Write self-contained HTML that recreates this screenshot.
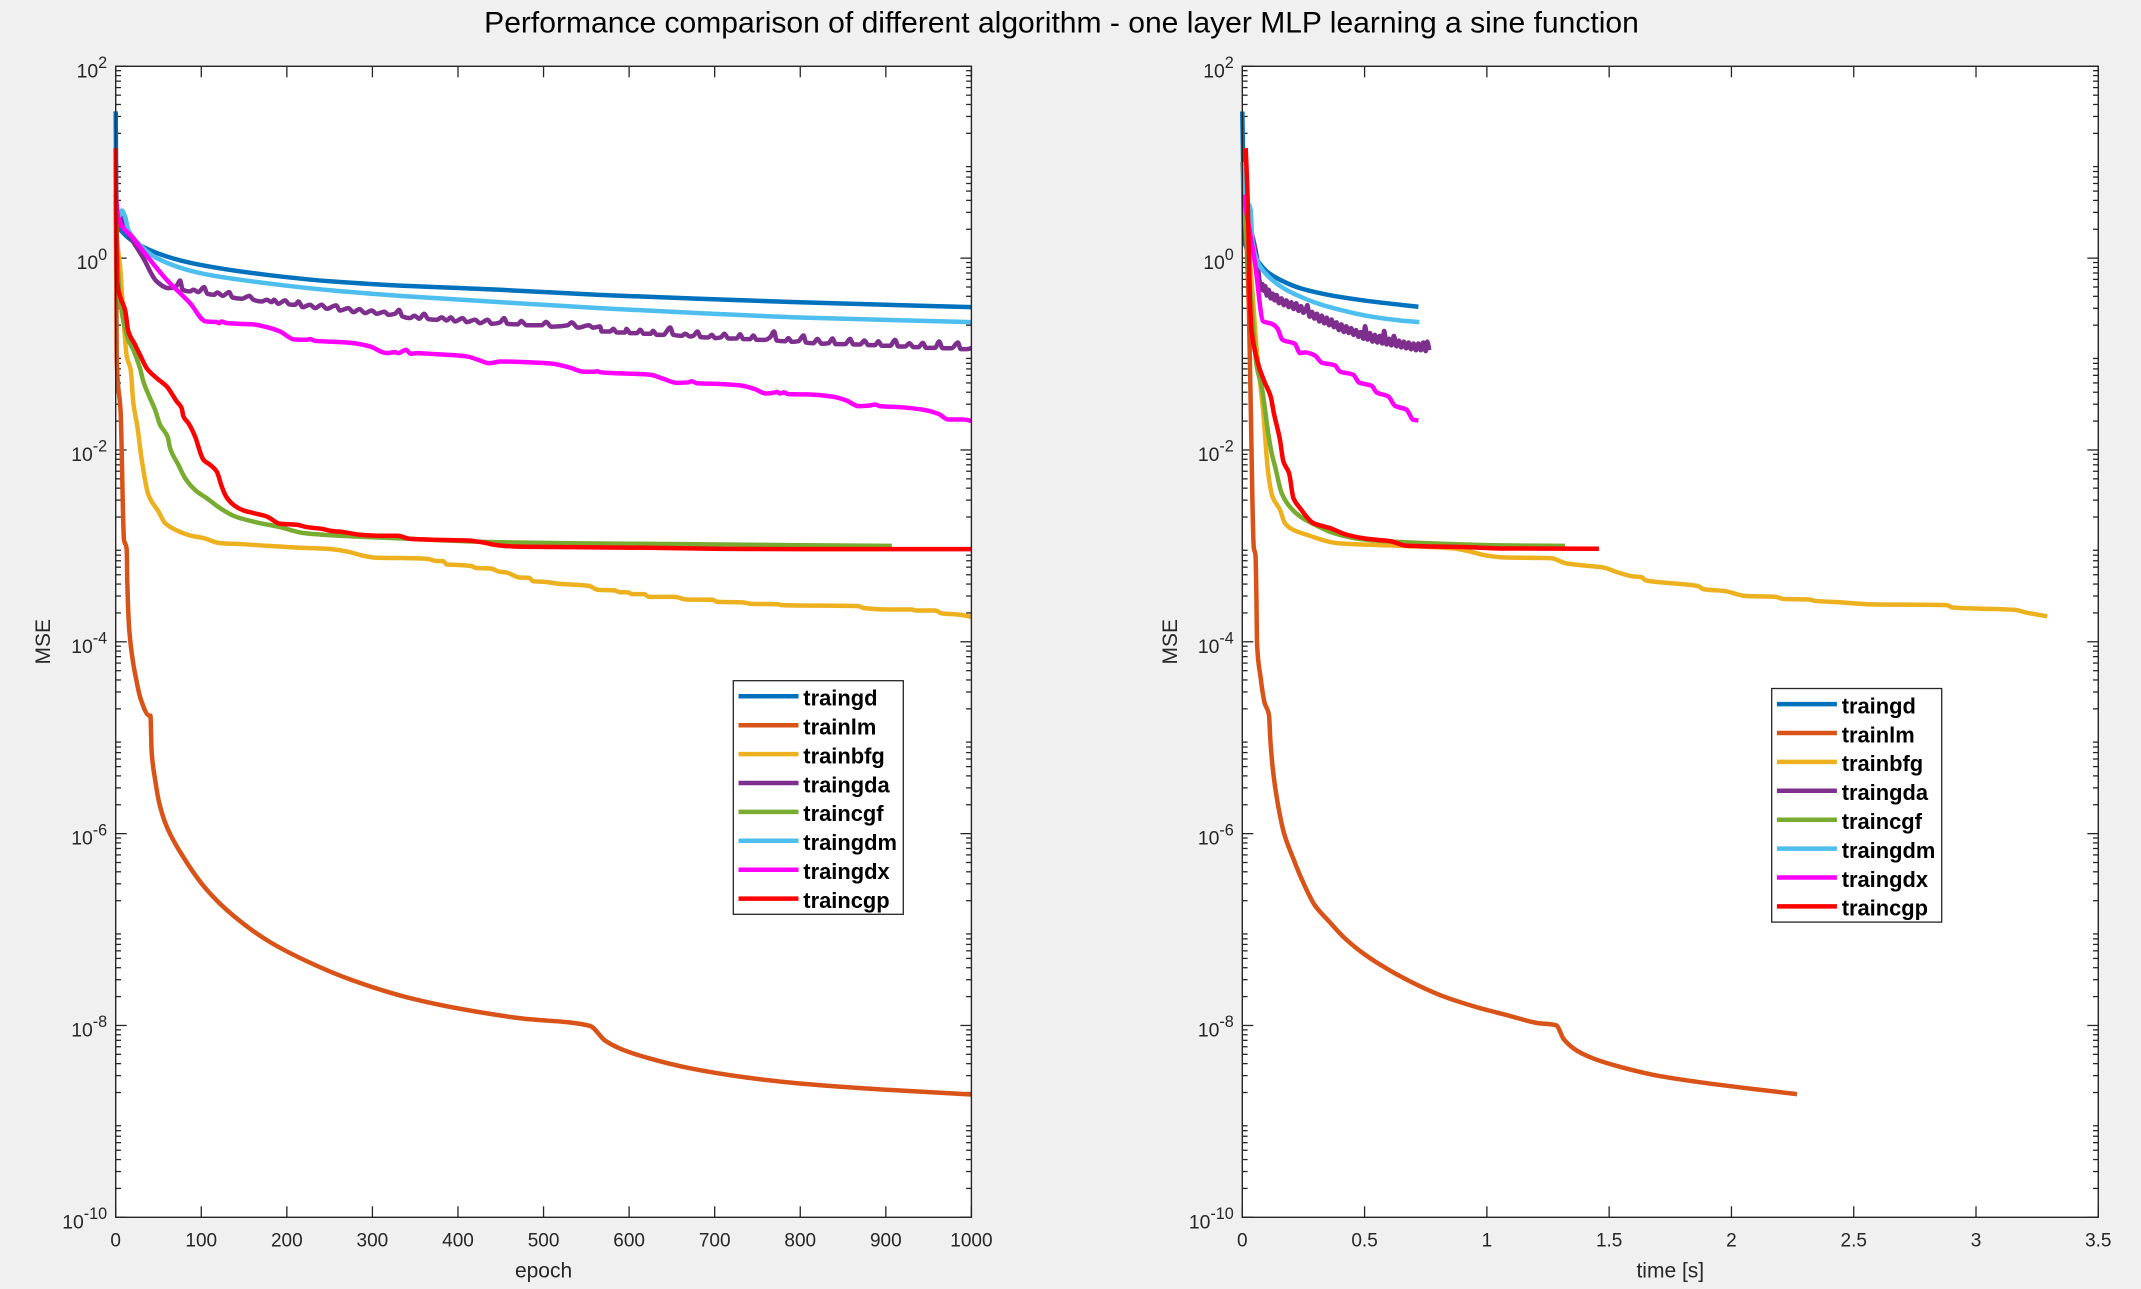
<!DOCTYPE html>
<html>
<head>
<meta charset="utf-8">
<title>Performance comparison</title>
<style>
html,body{margin:0;padding:0;background:#f0f0f0;}
svg{display:block;font-family:"Liberation Sans",Arial,sans-serif;}
</style>
</head>
<body>
<svg id="figure" xmlns="http://www.w3.org/2000/svg" width="2141" height="1289" viewBox="0 0 2141 1289">
  <rect x="0" y="0" width="2141" height="1289" fill="#f0f0f0"/>
  <text x="1061.5" y="32.3" text-anchor="middle" font-size="30.05" fill="#000">Performance comparison of different algorithm - one layer MLP learning a sine function</text>
  <g id="panel-left"></g>
  <g id="panel-right"></g>
</svg>
<script>
// Axis tick values
const epochTicks = [0,100,200,300,400,500,600,700,800,900,1000];
const timeTicks = [0,0.5,1,1.5,2,2.5,3,3.5];
const mseDecades = [2,0,-2,-4,-6,-8,-10];
const seriesNames = ['traingd','trainlm','trainbfg','traingda','traincgf','traingdm','traingdx','traincgp'];

// MSE is stored as log10(MSE). Left panel: epoch vs log10(MSE)
const epochTraingd = [0,1,3,8,20.6,59.6,98.5,176,254,332,449,565,682,799,1000];
const log10MseTraingd = [1.53,.45,.33,.27,.173,.017,-.07,-.174,-.244,-.286,-.33,-.383,-.424,-.46,-.511];

const epochTrainlm = [0,.5,1.2,5.8,9.7,12.9,13.5,15.7,19.7,24,29,39.3,40.6,42,46,51,60,80,106,139,178,224,277,342,408,473,554,572,591,624,670,736,801,900,1000];
const log10MseTrainlm = [.6,0,-1.06,-1.613,-2.937,-3.04,-3.36,-3.857,-4.18,-4.394,-4.591,-4.77,-4.77,-5.147,-5.434,-5.685,-5.935,-6.258,-6.581,-6.867,-7.118,-7.333,-7.53,-7.71,-7.835,-7.925,-8.004,-8.158,-8.247,-8.344,-8.444,-8.541,-8.606,-8.67,-8.72];

const epochTrainbfg = [0,1.5,5.1,9,12.9,17.5,20.6,25.3,30.4,38.2,49.9,57.7,71.3,86.9,102.5,121.9,145.3,176.5,215.4,246.6,270,289.4,305,332.3,364.7,373.6,382.6,387.1,398.2,416.1,420.6,438.5,447.4,456.4,472,483.2,487.7,501.1,519,552.5,563.7,583.8,588.3,599.5,603.1,617.4,623.2,653.2,666.6,697.9,702.4,733.7,742.6,773.9,778.4,867.8,874.5,903.6,930.4,934.9,957.3,966.2,984.1,1000];
const log10MseTrainbfg = [.7,.2,-.087,-.608,-1.025,-1.164,-1.511,-1.755,-2.102,-2.467,-2.641,-2.762,-2.839,-2.891,-2.919,-2.971,-2.981,-2.999,-3.019,-3.03,-3.058,-3.103,-3.124,-3.127,-3.135,-3.156,-3.159,-3.194,-3.198,-3.211,-3.229,-3.236,-3.267,-3.277,-3.33,-3.333,-3.368,-3.375,-3.396,-3.416,-3.458,-3.465,-3.482,-3.486,-3.503,-3.503,-3.531,-3.531,-3.559,-3.562,-3.583,-3.59,-3.604,-3.608,-3.618,-3.628,-3.649,-3.663,-3.663,-3.674,-3.674,-3.705,-3.715,-3.74];

const epochTraingda = [0,1.5,3.1,7,14.8,32.3,47.9,61.5,69.3,72,75.2,78.3,86.9,90.8,96.6,103.2,107.1,114.9,118.8,125,132.5,136.3,147.3,156.2,160.9,170.6,176.5,182.3,185,190.1,197.9,203,209.6,213.5,218.5,227.1,233,240.7,246.6,257.5,262.2,271.9,277.8,284.8,291.4,299.2,305,314,318.7,326.4,331.1,335,344,349,354.9,360.3,365.4,375.1,381,386.8,391.5,396.6,405.5,410.2,419.9,425.8,434.7,439.4,449,453.8,458,470,474,480,498,503,509,528,533,540,553,558,566,568,577.7,581.6,585.5,595,597,601,609,613,617,625,628,632.3,640,648,651.7,661.5,665.4,671.2,675,679.8,683.7,692.6,696.6,700.5,707,711.3,716,725.7,729.6,733.5,741.3,745.2,749,758.9,764.8,769.4,772.5,782.3,786.2,790,797.8,803.8,806.8,815.4,820,825.1,833,837.6,841.5,852.4,858.2,862.1,870,875,879.6,887.4,891.3,895.2,905,910.8,914.7,922.5,927.6,932.3,938.1,943.2,947.1,957.6,962.3,966.2,977.1,984.2,987.6,994.7,1000];
const log10MseTraingda = [.6,.45,.434,.417,.26,0,-.243,-.313,-.302,-.278,-.233,-.33,-.347,-.33,-.354,-.302,-.372,-.382,-.358,-.393,-.354,-.41,-.424,-.393,-.434,-.452,-.434,-.459,-.434,-.476,-.441,-.483,-.486,-.452,-.511,-.486,-.521,-.486,-.528,-.493,-.546,-.521,-.563,-.532,-.573,-.546,-.58,-.559,-.591,-.58,-.539,-.608,-.625,-.601,-.632,-.58,-.636,-.643,-.618,-.65,-.618,-.66,-.625,-.667,-.643,-.678,-.643,-.685,-.671,-.625,-.685,-.69,-.655,-.7,-.7,-.665,-.715,-.7,-.67,-.725,-.7,-.725,-.713,-.765,-.765,-.737,-.775,-.775,-.737,-.782,-.782,-.747,-.789,-.789,-.758,-.8,-.8,-.723,-.8,-.81,-.789,-.817,-.81,-.765,-.824,-.827,-.8,-.834,-.827,-.789,-.838,-.838,-.793,-.845,-.845,-.807,-.852,-.852,-.824,-.765,-.859,-.866,-.834,-.873,-.866,-.807,-.88,-.887,-.842,-.893,-.887,-.838,-.897,-.897,-.842,-.9,-.9,-.859,-.907,-.907,-.866,-.914,-.914,-.852,-.921,-.921,-.887,-.928,-.928,-.883,-.935,-.935,-.869,-.939,-.939,-.88,-.949,-.949,-.939];

const epochTraincgf = [0,1.5,5.1,14.8,20.6,28.4,32.3,40.1,46,51.8,60.8,63.5,73.2,81,94.7,106.3,121.9,139.5,164.8,192,219.3,254.4,293.3,332.3,443,532,666.6,800.8,907];
const log10MseTraincgf = [.6,.1,-.434,-.851,-.956,-1.147,-1.286,-1.459,-1.581,-1.737,-1.866,-1.98,-2.154,-2.293,-2.432,-2.502,-2.606,-2.693,-2.755,-2.804,-2.866,-2.891,-2.908,-2.922,-2.961,-2.972,-2.982,-2.993,-3];

const epochTraingdm = [0,1.5,3.9,7,10.9,14.7,24.5,48,98.5,176,254,332,449,565,682,799,1000];
const log10MseTraingdm = [1,.4,.434,.496,.434,.295,.173,0,-.156,-.261,-.338,-.393,-.459,-.521,-.573,-.619,-.667];

const epochTraingdx = [0,3.1,20.6,40.1,59.6,86.9,105.2,118,120.8,123.9,129.7,145.3,160.9,176.5,192,208.8,223.2,227,233,254.4,277.8,297.2,316.7,326.4,330,339.3,344.8,351.8,371.2,410.2,425.8,435.5,445.3,449,480,510,530,548,558,563,566,582,605,624.7,640,655.6,669,673,679,702,729.6,747,759.6,770.5,772.5,776.4,781,786,807.4,838.7,854,867.9,881.5,887.4,893.3,916.7,944,961.4,973,990.6,1000];
const log10MseTraingdx = [.66,.417,.208,-.017,-.226,-.469,-.66,-.667,-.678,-.66,-.678,-.685,-.691,-.719,-.764,-.848,-.851,-.844,-.862,-.872,-.886,-.921,-.99,-.98,-.99,-.956,-.997,-.99,-1,-1.025,-1.067,-1.095,-1.084,-1.077,-1.085,-1.1,-1.14,-1.185,-1.185,-1.18,-1.189,-1.199,-1.206,-1.216,-1.258,-1.3,-1.296,-1.283,-1.304,-1.311,-1.327,-1.366,-1.411,-1.4,-1.394,-1.411,-1.4,-1.418,-1.421,-1.446,-1.484,-1.543,-1.536,-1.526,-1.543,-1.554,-1.581,-1.623,-1.682,-1.682,-1.696];

const epochTraincgp = [0,.4,1.9,5.1,10.9,14.8,22.6,28.4,36.2,47.9,59.6,71.3,77.1,79.1,84.9,92.7,100.5,102.5,110.2,118,123.9,128.9,137.5,149.2,160.9,176.5,192,211.5,223.2,242.7,250.5,266,285.5,308.9,329,344.6,375.9,411.7,429.6,443,465.3,532.4,621.9,711.3,800.8,1000];
const log10MseTraincgp = [1.146,.608,-.261,-.4,-.539,-.764,-.903,-1.008,-1.147,-1.251,-1.338,-1.494,-1.564,-1.65,-1.72,-1.859,-2.067,-2.102,-2.154,-2.224,-2.38,-2.484,-2.571,-2.63,-2.658,-2.693,-2.769,-2.78,-2.804,-2.825,-2.842,-2.856,-2.884,-2.895,-2.895,-2.927,-2.937,-2.944,-2.965,-2.989,-3.006,-3.013,-3.02,-3.031,-3.034,-3.034];

// Right panel: time [s] vs log10(MSE)
const timeTraingd = [0,.004,.007,.059,.1,.168,.236,.304,.372,.508,.645,.72];
const timeLog10MseTraingd = [1.529,.886,.191,-.017,-.139,-.243,-.313,-.358,-.393,-.445,-.486,-.507];

const timeTrainlm = [0,.015,.027,.034,.047,.054,.058,.06,.074,.091,.109,.115,.126,.144,.17,.21,.242,.297,.352,.418,.505,.604,.691,.812,.954,1.085,1.206,1.283,1.315,1.37,1.436,1.524,1.677,1.852,2.071,2.268];
const timeLog10MseTrainlm = [1,.3,-.539,-1.477,-3.02,-3.1,-3.6,-3.997,-4.356,-4.635,-4.763,-5.034,-5.353,-5.672,-5.991,-6.27,-6.47,-6.749,-6.908,-7.088,-7.268,-7.427,-7.547,-7.687,-7.806,-7.894,-7.974,-7.998,-8.146,-8.266,-8.345,-8.417,-8.513,-8.585,-8.657,-8.716];

const timeTrainbfg = [.003,.02,.04,.059,.086,.106,.123,.154,.174,.202,.263,.386,.645,.867,.932,.998,1.064,1.261,1.326,1.392,1.48,1.524,1.6,1.633,1.649,1.743,1.863,1.885,1.973,2.06,2.181,2.214,2.312,2.345,2.433,2.575,2.881,2.903,3.013,3.155,3.21,3.291];
const timeLog10MseTrainbfg = [.7,.3,-.3,-.956,-1.616,-2.241,-2.484,-2.623,-2.762,-2.825,-2.884,-2.971,-2.999,-3.028,-3.06,-3.1,-3.12,-3.128,-3.183,-3.203,-3.227,-3.267,-3.319,-3.327,-3.359,-3.387,-3.419,-3.451,-3.471,-3.523,-3.531,-3.554,-3.558,-3.574,-3.586,-3.61,-3.618,-3.642,-3.654,-3.666,-3.698,-3.734];

const timeTraingda = [.005,.03,.06,.07,.076,.082,.088,.094,.1,.108,.116,.124,.132,.14,.15,.16,.17,.18,.19,.2,.21,.22,.23,.24,.25,.26,.266,.275,.285,.295,.305,.315,.325,.335,.345,.355,.365,.375,.385,.395,.405,.415,.425,.435,.445,.455,.465,.475,.485,.495,.502,.512,.522,.532,.542,.552,.562,.572,.58,.59,.6,.61,.62,.63,.64,.65,.66,.67,.68,.69,.7,.71,.72,.73,.74,.75,.756,.765];
const timeLog10MseTraingda = [.6,.35,0,-.226,-.33,-.27,-.34,-.29,-.39,-.33,-.42,-.37,-.44,-.385,-.47,-.42,-.49,-.44,-.51,-.46,-.53,-.47,-.55,-.5,-.57,-.53,-.49,-.61,-.56,-.63,-.58,-.66,-.6,-.68,-.62,-.7,-.64,-.72,-.67,-.75,-.69,-.77,-.71,-.78,-.73,-.8,-.75,-.82,-.77,-.84,-.71,-.85,-.78,-.87,-.8,-.88,-.81,-.89,-.76,-.9,-.84,-.91,-.81,-.92,-.86,-.93,-.87,-.94,-.88,-.95,-.89,-.96,-.89,-.96,-.88,-.97,-.87,-.96];

const timeTraincgf = [.005,.02,.035,.059,.079,.106,.12,.134,.161,.188,.236,.297,.372,.481,.645,.849,1.054,1.32];
const timeLog10MseTraincgf = [.6,.1,-.4,-1.129,-1.338,-1.824,-2.033,-2.172,-2.45,-2.571,-2.693,-2.78,-2.866,-2.929,-2.96,-2.981,-2.995,-3];

const timeTraingdm = [.002,.004,.034,.041,.059,.1,.168,.236,.304,.372,.508,.645,.724];
const timeLog10MseTraingdm = [1,.678,.504,.191,-.017,-.174,-.313,-.4,-.469,-.521,-.601,-.65,-.667];

const timeTraingdx = [.005,.052,.086,.12,.143,.164,.215,.236,.256,.297,.324,.379,.399,.454,.477,.529,.549,.597,.624,.672,.699,.72];
const timeLog10MseTraingdx = [.66,-.052,-.66,-.684,-.73,-.851,-.893,-.99,-.983,-1.015,-1.088,-1.119,-1.181,-1.216,-1.296,-1.331,-1.4,-1.442,-1.539,-1.581,-1.685,-1.692];

const timeTraincgp = [.014,.022,.031,.038,.052,.07,.093,.116,.129,.154,.168,.191,.209,.236,.29,.358,.427,.508,.604,.672,.781,.917,1.054,1.458];
const timeLog10MseTraincgp = [1.147,.608,-.434,-.764,-.973,-1.147,-1.303,-1.442,-1.616,-1.894,-2.12,-2.241,-2.502,-2.606,-2.762,-2.814,-2.884,-2.926,-2.95,-2.999,-3.006,-3.013,-3.027,-3.03];

const seriesColors = ['#0072BD','#D95319','#EDB120','#7E2F8E','#77AC30','#4DBEEE','#FF00FF','#FF0000'];
const NS = 'http://www.w3.org/2000/svg';
const TOP = 66.3, BOTTOM = 1217.3, INK = '#262626';

function yAxis(logValue){ return TOP + (2 - logValue) * (BOTTOM - TOP) / 12; }
function linearAxis(left, right, max){ return function(v){ return left + v / max * (right - left); }; }

function make(parent, tag, attrs, text){
  const el = document.createElementNS(NS, tag);
  for (const k in attrs) el.setAttribute(k, attrs[k]);
  if (text !== undefined) el.textContent = text;
  parent.appendChild(el);
  return el;
}

// Shape-preserving curve through the plotted samples (no overshoot at kinks).
function curvePath(px, py){
  const n = px.length, h = [], m = [], t = [];
  for (let i = 0; i < n - 1; i++) {
    h[i] = px[i+1] - px[i];
    m[i] = h[i] > 0 ? (py[i+1] - py[i]) / h[i] : 0;
  }
  t[0] = m[0];
  t[n-1] = m[n-2];
  for (let i = 1; i < n - 1; i++) {
    if (m[i-1] * m[i] <= 0) { t[i] = 0; continue; }
    const a = 2 * h[i] + h[i-1], b = h[i] + 2 * h[i-1];
    t[i] = (a + b) / (a / m[i-1] + b / m[i]);
  }
  let d = 'M' + px[0].toFixed(2) + ' ' + py[0].toFixed(2);
  for (let i = 0; i < n - 1; i++) {
    const c = h[i] / 3;
    d += 'C' + (px[i] + c).toFixed(2) + ' ' + (py[i] + t[i] * c).toFixed(2) + ' ' +
         (px[i+1] - c).toFixed(2) + ' ' + (py[i+1] - t[i+1] * c).toFixed(2) + ' ' +
         px[i+1].toFixed(2) + ' ' + py[i+1].toFixed(2);
  }
  return d;
}

function drawPanel(opts){
  const g = document.getElementById(opts.id);
  const x = linearAxis(opts.left, opts.right, opts.xMax);
  const L = opts.left, R = opts.right;

  const bg = make(g, 'rect', {x:L, y:TOP, width:R-L, height:BOTTOM-TOP, fill:'#fff'});
  
  

  // X ticks and labels
  opts.xTicks.forEach(function(v){
    const px = x(v);
    const t1 = make(g, 'line', {x1:px, x2:px, y1:BOTTOM, y2:BOTTOM-11, stroke:INK, 'stroke-width':1.3});
    
    
    const t2 = make(g, 'line', {x1:px, x2:px, y1:TOP, y2:TOP+11, stroke:INK, 'stroke-width':1.3});
    
    
    const lab = make(g, 'text', {x:px, y:1246.7, 'text-anchor':'middle', 'font-size':19, fill:INK}, String(v));
    
    
  });

  // Y ticks and labels
  mseDecades.forEach(function(d){
    const py = yAxis(d);
    const t1 = make(g, 'line', {x1:L, x2:L+11, y1:py, y2:py, stroke:INK, 'stroke-width':1.3});
    
    
    const t2 = make(g, 'line', {x1:R, x2:R-11, y1:py, y2:py, stroke:INK, 'stroke-width':1.3});
    
    
    const lab = make(g, 'text', {x:L-8.5, y:py+11, 'text-anchor':'end', 'font-size':19.4, fill:INK});
    
    
    make(lab, 'tspan', {}, '10');
    make(lab, 'tspan', {dy:-9.3, 'font-size':16.2}, String(d));
  });
  for (let d = -10; d < 2; d++) {
    for (let m = 2; m < 10; m++) {
      const py = yAxis(d + Math.log10(m));
      const a = make(g, 'line', {x1:L, x2:L+5.3, y1:py, y2:py, stroke:INK, 'stroke-width':1.3});
      
      
      const b = make(g, 'line', {x1:R, x2:R-5.3, y1:py, y2:py, stroke:INK, 'stroke-width':1.3});
      
      
    }
  }

  // Series
  opts.series.forEach(function(s, i){
    const d = curvePath(s[0].map(x), s[1].map(yAxis));
    const p = make(g, 'path', {d:d, fill:'none', stroke:seriesColors[i], 'stroke-width':4.5, 'stroke-linejoin':'round', 'stroke-linecap':'butt'});
    
    
  });

  // Axes box
  const box = make(g, 'rect', {x:L, y:TOP, width:R-L, height:BOTTOM-TOP, fill:'none', stroke:INK, 'stroke-width':1.4});
  
  

  // Axis titles
  const xt = make(g, 'text', {x:(L+R)/2, y:1277.5, 'text-anchor':'middle', 'font-size':21, fill:INK}, opts.xTitle);
  
  
  const yt = make(g, 'text', {x:0, y:0, 'text-anchor':'middle', 'font-size':21, fill:INK, transform:'translate(' + opts.yTitleX + ' 641.8) rotate(-90)'}, 'MSE');
  
  

  // Legend
  const lg = make(g, 'g', {});
  
  
  const lx = opts.legendX, ly = opts.legendY;
  const lb = make(lg, 'rect', {x:lx, y:ly, width:170, height:233.6, fill:'#fff', stroke:INK, 'stroke-width':1.3});
  
  
  seriesNames.forEach(function(name, i){
    const py = ly + 15.6 + i * 28.9;
    const ll = make(lg, 'line', {x1:lx+5.2, x2:lx+65.2, y1:py, y2:py, stroke:seriesColors[i], 'stroke-width':4.5});
    
    
    const lt = make(lg, 'text', {x:lx+70, y:py+9.3, 'font-size':21.9, 'font-weight':'bold', fill:'#000'}, name);
    
    
  });
}

drawPanel({
  id:'panel-left', left:115.7, right:971.4, xMax:1000, xTicks:epochTicks, xTitle:'epoch', yTitleX:50,
  legendX:733.3, legendY:680.7,
  series:[
    [epochTraingd, log10MseTraingd],
    [epochTrainlm, log10MseTrainlm],
    [epochTrainbfg, log10MseTrainbfg],
    [epochTraingda, log10MseTraingda],
    [epochTraincgf, log10MseTraincgf],
    [epochTraingdm, log10MseTraingdm],
    [epochTraingdx, log10MseTraingdx],
    [epochTraincgp, log10MseTraincgp]
  ]
});
drawPanel({
  id:'panel-right', left:1242.3, right:2098.3, xMax:3.5, xTicks:timeTicks, xTitle:'time [s]', yTitleX:1177,
  legendX:1771.7, legendY:688.5,
  series:[
    [timeTraingd, timeLog10MseTraingd],
    [timeTrainlm, timeLog10MseTrainlm],
    [timeTrainbfg, timeLog10MseTrainbfg],
    [timeTraingda, timeLog10MseTraingda],
    [timeTraincgf, timeLog10MseTraincgf],
    [timeTraingdm, timeLog10MseTraingdm],
    [timeTraingdx, timeLog10MseTraingdx],
    [timeTraincgp, timeLog10MseTraincgp]
  ]
});
</script>
</body>
</html>
